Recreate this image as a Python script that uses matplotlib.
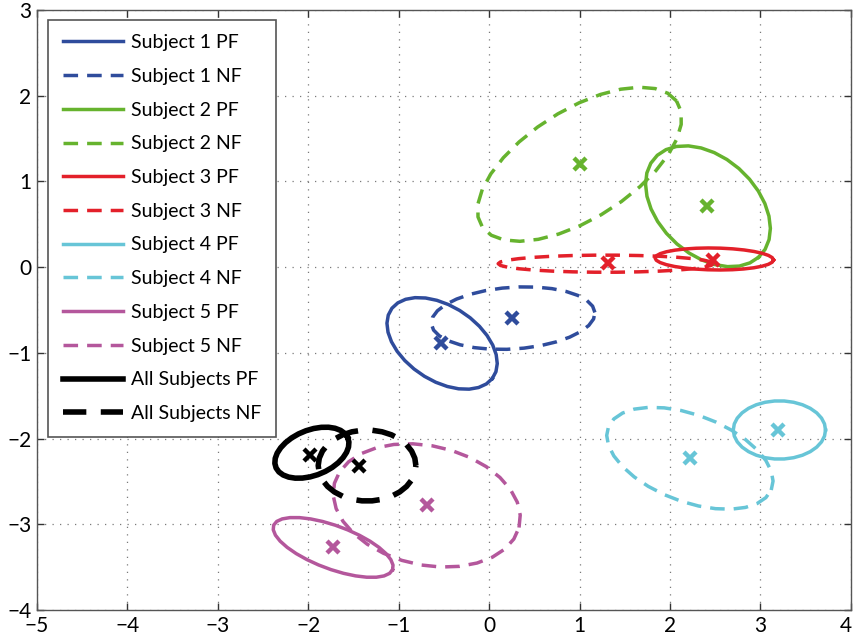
import numpy as np
import matplotlib
matplotlib.use("Agg")
import matplotlib.pyplot as plt
from matplotlib.transforms import ScaledTranslation

# ---- data -------------------------------------------------------------
labels = ["Subject 1", "Subject 2", "Subject 3", "Subject 4", "Subject 5", "All Subjects"]
colors = ["#2f4c9c", "#66b32e", "#e3202a", "#67c5d7", "#b4579c", "#000000"]

# group means (marked with x)
pf_mean_x = [-0.53, 2.41, 2.48, 3.20, -1.73, -1.98]
pf_mean_y = [-0.89, 0.71, 0.08, -1.90, -3.27, -2.19]
nf_mean_x = [0.25, 1.00, 1.31, 2.22, -0.69, -1.44]
nf_mean_y = [-0.59, 1.20, 0.05, -2.23, -2.78, -2.32]

# confidence ellipses: centre, semi-axes, rotation (deg)
pf_ell_cx = [-0.52, 2.42, 2.49, 3.21, -1.725, -1.96]
pf_ell_cy = [-0.89, 0.71, 0.095, -1.90, -3.27, -2.165]
pf_semi_major = [0.69, 0.817, 0.655, 0.51, 0.707, 0.434]
pf_semi_minor = [0.427, 0.554, 0.128, 0.34, 0.251, 0.262]
pf_angle = [-36.5, -46.7, -1.0, 0.0, -21.6, 24.3]

nf_ell_cx = [0.265, 1.0, 1.29, 2.22, -0.69, -1.35]
nf_ell_cy = [-0.595, 1.2, 0.04, -2.23, -2.78, -2.315]
nf_semi_major = [0.907, 1.302, 1.19, 0.973, 1.053, 0.54]
nf_semi_minor = [0.36, 0.624, 0.10, 0.503, 0.693, 0.414]
nf_angle = [4.2, 34.5, 0.0, -22.4, -14.2, 0.0]

x_ticks = [-5, -4, -3, -2, -1, 0, 1, 2, 3, 4]
y_ticks = [-4, -3, -2, -1, 0, 1, 2, 3]

# ---- drawing ----------------------------------------------------------
plt.rcParams["font.family"] = ["Lato", "DejaVu Sans"]


def ellipse_xy(cx, cy, a, b, ang, n=31):
    t = np.linspace(0, 2 * np.pi, n)
    th = np.deg2rad(ang)
    ex, ey = a * np.cos(t), b * np.sin(t)
    return (cx + ex * np.cos(th) - ey * np.sin(th),
            cy + ex * np.sin(th) + ey * np.cos(th))


fig = plt.figure(figsize=(8.54, 6.39), dpi=100)
ax = fig.add_axes([0.0433, 0.0454, 0.953, 0.939])

handles = []
for i, name in enumerate(labels):
    lw = 4.0 if i == 5 else 2.5
    c = colors[i]
    xs, ys = ellipse_xy(pf_ell_cx[i], pf_ell_cy[i], pf_semi_major[i], pf_semi_minor[i], pf_angle[i])
    h1, = ax.plot(xs, ys, color=c, lw=lw, solid_joinstyle="round", label=f"{name} PF")
    xs, ys = ellipse_xy(nf_ell_cx[i], nf_ell_cy[i], nf_semi_major[i], nf_semi_minor[i], nf_angle[i])
    h2, = ax.plot(xs, ys, color=c, lw=lw, linestyle=(0, (4.2, 2.6)), label=f"{name} NF")
    ax.plot(pf_mean_x[i], pf_mean_y[i], "x", color=c, ms=8, mew=3.2)
    ax.plot(nf_mean_x[i], nf_mean_y[i], "x", color=c, ms=8, mew=3.2)
    handles += [h1, h2]

ax.set_xlim(-5, 4)
ax.set_ylim(-4, 3)
ax.set_xticks(x_ticks)
ax.set_yticks(y_ticks)
ax.set_xticklabels([f"{v}".replace("-", "\u2212") for v in x_ticks])
ax.set_yticklabels([f"{v}".replace("-", "\u2212") for v in y_ticks])
ax.grid(True, linestyle=(0, (1, 5)), color="#7a7a7a", lw=0.9)
ax.tick_params(direction="in", length=5, width=1.0, top=True, right=True,
               labelsize=15, colors="#333333", labelcolor="black", pad=4)
for s in ax.spines.values():
    s.set_color("#555555")
    s.set_linewidth(1.0)

# keep the last x label inside the canvas
last = ax.get_xticklabels()[-1]
last.set_transform(last.get_transform() + ScaledTranslation(-5 / 100, 0, fig.dpi_scale_trans))

leg = ax.legend(handles=handles, loc="upper left", bbox_to_anchor=(0.0135, 0.984),
                fontsize=14, handlelength=3.1, handletextpad=0.4, labelspacing=0.86,
                borderaxespad=0.0, fancybox=False, framealpha=1.0, borderpad=0.75)
leg.get_frame().set_edgecolor("#555555")
leg.get_frame().set_linewidth(1.2)

fig.savefig("out.png", dpi=100)
